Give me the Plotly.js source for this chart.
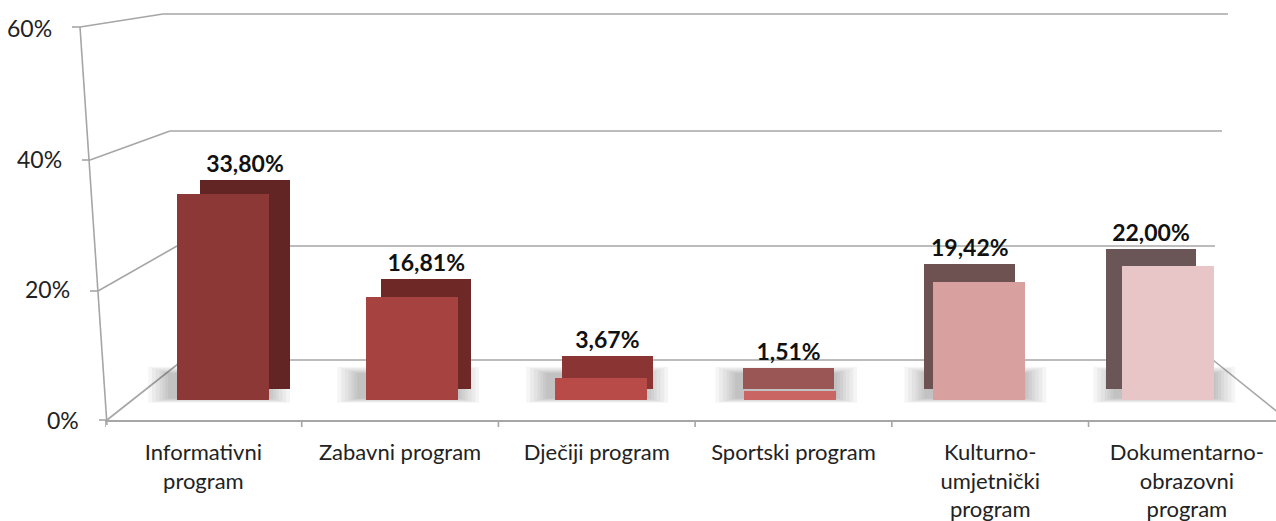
<!DOCTYPE html>
<html>
<head>
<meta charset="utf-8">
<script src="https://cdn.plot.ly/plotly-3.0.1.min.js"></script>
<style>
  html, body { margin: 0; padding: 0; background: #ffffff; }
  #chart { width: 1276px; height: 521px; }
</style>
</head>
<body>
<div id="chart"></div>
<script>
// ---- data ----
const categories = [
  "Informativni<br>program",
  "Zabavni program",
  "Dječiji program",
  "Sportski program",
  "Kulturno-<br>umjetnički<br>program",
  "Dokumentarno-<br>obrazovni<br>program"
];
const values = [33.80, 16.81, 3.67, 1.51, 19.42, 22.00];
const valueLabels = ["33,80%", "16,81%", "3,67%", "1,51%", "19,42%", "22,00%"];
const yTickVals = [0, 20, 40, 60];
const yTickLabels = ["0%", "20%", "40%", "60%"];

// ---- styling ----
const frontColors = ["#8b3836", "#a64240", "#b84a47", "#c96663", "#d9a0a0", "#e8c5c6"];
const backColors  = ["#622523", "#6e2927", "#8a3533", "#9a5654", "#6e5252", "#6a5657"];
const backDrop = 2.0; // how far the back face extends below the floor line (hidden behind the front face)

const W = 1276, H = 521;
const px = x => x / W;
const py = y => 1 - y / H;

const idx = categories.map((c, i) => i);

// back face (drawn first, underneath) on x2/y2
const back = {
  type: "bar", x: idx, y: values.map(v => v + backDrop), base: -backDrop,
  xaxis: "x2", yaxis: "y2",
  width: 0.5, marker: { color: backColors, line: { width: 0 } },
  text: valueLabels, textposition: "outside", cliponaxis: false,
  textfont: { family: "Lato, 'Open Sans', sans-serif", size: 23, color: "#111111", weight: "bold" },
  hoverinfo: "skip", showlegend: false
};
// front face on x3/y3 (drawn on top)
const front = {
  type: "bar", x: idx, y: values, xaxis: "x3", yaxis: "y3",
  width: 0.49, marker: { color: frontColors, line: { width: 0 } },
  hoverinfo: "skip", showlegend: false
};
// invisible trace to keep the label axis alive
const labelTrace = {
  type: "scatter", x: idx, y: values.map(() => null), xaxis: "x", yaxis: "y",
  mode: "markers", hoverinfo: "skip", showlegend: false
};

const grid = "#a6a6a6";
const shapes = [];
function seg(x0, y0, x1, y1) {
  shapes.push({ type: "line", xref: "paper", yref: "paper",
    x0: px(x0), y0: py(y0), x1: px(x1), y1: py(y1),
    line: { color: grid, width: 1.6 }, layer: "below" });
}
// back wall lines (20% steps)
const backLeft = [[183, 360], [177, 246], [170, 131], [163, 14]];
const backRight = [1213, 1215, 1222, 1228];
// front slanted axis points
const frontAxis = [[107, 420], [98, 291], [90, 160], [80, 27]];
for (let i = 0; i < 4; i++) {
  seg(backLeft[i][0], backLeft[i][1], backRight[i], backLeft[i][1]);
  seg(frontAxis[i][0], frontAxis[i][1], backLeft[i][0], backLeft[i][1]);
  seg(frontAxis[i][0] - 8, frontAxis[i][1], frontAxis[i][0], frontAxis[i][1]);
}
seg(107, 425, 80, 27);        // slanted value axis
seg(1213, 360, 1290, 422);    // right floor edge

// soft floor shadows around each bar foot (layered translucent rects)
const spread = [0.12, 0.10, 0.08, 0.06, 0.045, 0.03, 0.015];
idx.forEach(i => {
  spread.forEach((s, k) => {
    shapes.push({ type: "rect", xref: "x3", yref: "paper",
      x0: i - 0.245 - s - 0.03, x1: i + 0.245 + s - 0.01,
      y0: py(398 + s * 40), y1: py(374 - s * 60),
      fillcolor: "rgba(80,80,80,0.055)", line: { width: 0 }, layer: "below" });
  });
});

const annotations = yTickVals.map((v, i) => ({
  xref: "paper", yref: "y", x: px(frontAxis[i][0] - 26), y: v,
  text: yTickLabels[i], showarrow: false, xanchor: "right", yanchor: "middle",
  font: { family: "Lato, 'Open Sans', sans-serif", size: 23, color: "#222222" }
}));

const layout = {
  width: W, height: H,
  margin: { l: 0, r: 0, t: 0, b: 0 },
  paper_bgcolor: "#ffffff", plot_bgcolor: "rgba(0,0,0,0)",
  showlegend: false, bargap: 0,
  xaxis: {
    domain: [px(105), 1], range: [-0.5, 5.453],
    tickmode: "array", tickvals: idx, ticktext: categories,
    showgrid: false, zeroline: false,
    showline: true, linecolor: grid, linewidth: 1.6,
    ticks: "", ticklabelstandoff: 12,
    tickfont: { family: "Lato, 'Open Sans', sans-serif", size: 22, color: "#222222" },
    anchor: "y", fixedrange: true
  },
  yaxis: {
    domain: [py(420), py(28)], range: [0, 60],
    visible: false, fixedrange: true
  },
  // back faces
  xaxis2: { overlaying: "x", domain: [px(105), 1], range: [-0.7726, 5.690], visible: false, anchor: "y2" },
  yaxis2: { overlaying: "y", domain: [py(420), py(28)], range: [-7.39, 59.97], visible: false, anchor: "x2" },
  // front faces
  xaxis3: { overlaying: "x", domain: [px(105), 1], range: [-0.624, 5.571], visible: false, anchor: "y3" },
  yaxis3: { overlaying: "y", domain: [py(420), py(28)], range: [-3.28, 61.0], visible: false, anchor: "x3" },
  shapes: shapes,
  annotations: annotations
};

// boundary tick marks on the front axis, between categories
const bounds = [-0.5, 0.5, 1.5, 2.5, 3.5, 4.5];
bounds.forEach(b => {
  shapes.push({ type: "line", xref: "x", yref: "paper",
    x0: b, x1: b, y0: py(420), y1: py(427),
    line: { color: grid, width: 1.6 } });
});

Plotly.newPlot("chart", [labelTrace, back, front], layout, { staticPlot: true });
</script>
</body>
</html>
